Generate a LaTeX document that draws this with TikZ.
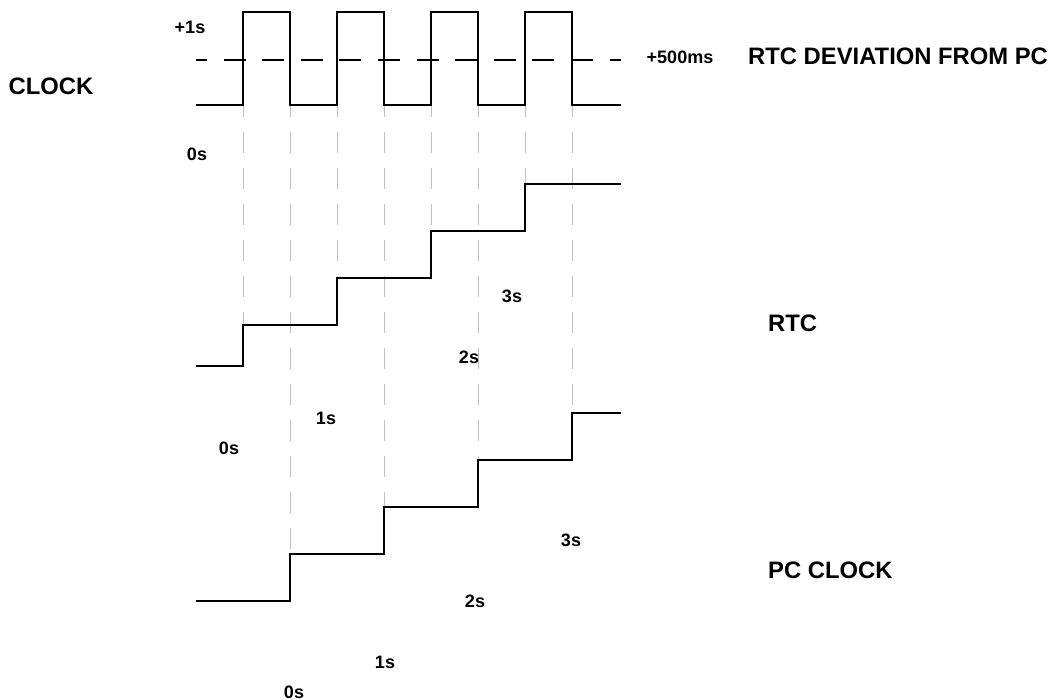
\documentclass[tikz,border=0pt]{standalone}
\usepackage{fontspec}
\setmainfont{Liberation Sans}
\begin{document}
\begin{tikzpicture}[x=1pt,y=-1pt,
  wave/.style={line width=2pt,black,line join=miter},
  guide/.style={line width=1pt,color={rgb,255:red,192;green,192;blue,192},dash pattern=on 21pt off 15pt,dash phase=9pt},
  bigl/.style={font=\fontsize{23.8}{28}\selectfont\bfseries,inner sep=0pt},
  smalll/.style={font=\fontsize{18}{21}\selectfont\bfseries,inner sep=0pt}]
\useasboundingbox (0,0) rectangle (1054,700);
% guide lines
\foreach \x/\y in {243/325,337/278,431/231,525/184,290/554,384/507,478/460,572/413}
  \draw[guide] (\x,105) -- (\x,\y);
% 500ms dashed level
\draw[line width=2pt,dash pattern=on 22pt off 16.6pt,dash phase=11pt] (196,60) -- (621,60);
% clock square wave
\draw[wave] (196,105) -- (243,105) -- (243,12) -- (290,12) -- (290,105) -- (337,105) -- (337,12) -- (384,12) -- (384,105)
  -- (431,105) -- (431,12) -- (478,12) -- (478,105) -- (525,105) -- (525,12) -- (572,12) -- (572,105) -- (621,105);
% RTC staircase
\draw[wave] (196,366) -- (243,366) -- (243,325) -- (337,325) -- (337,278) -- (431,278) -- (431,231) -- (525,231) -- (525,184) -- (621,184);
% PC staircase
\draw[wave] (196,601) -- (290,601) -- (290,554) -- (384,554) -- (384,507) -- (478,507) -- (478,460) -- (572,460) -- (572,413) -- (621,413);
% labels
\node[bigl] (clock) at (51,86) {CLOCK};
\node[bigl,anchor=west] (dev) at (748,56) {RTC DEVIATION FROM PC};
\node[bigl,anchor=west] (rtc) at (768,323) {RTC};
\node[bigl,anchor=west] (pc) at (768,570) {PC CLOCK};
\node[smalll] (p1s) at (190,27) {+1s};
\node[smalll] (p500) at (680,57) {+500ms};
\node[smalll] (c0) at (197,154) {0s};
\node[smalll] (r0) at (229,448) {0s};
\node[smalll] (r1) at (326,418) {1s};
\node[smalll] (r2) at (469,357) {2s};
\node[smalll] (r3) at (512,296) {3s};
\node[smalll] (q0) at (294,692) {0s};
\node[smalll] (q1) at (385,662) {1s};
\node[smalll] (q2) at (475,601) {2s};
\node[smalll] (q3) at (571,540) {3s};
\end{tikzpicture}
\end{document}
